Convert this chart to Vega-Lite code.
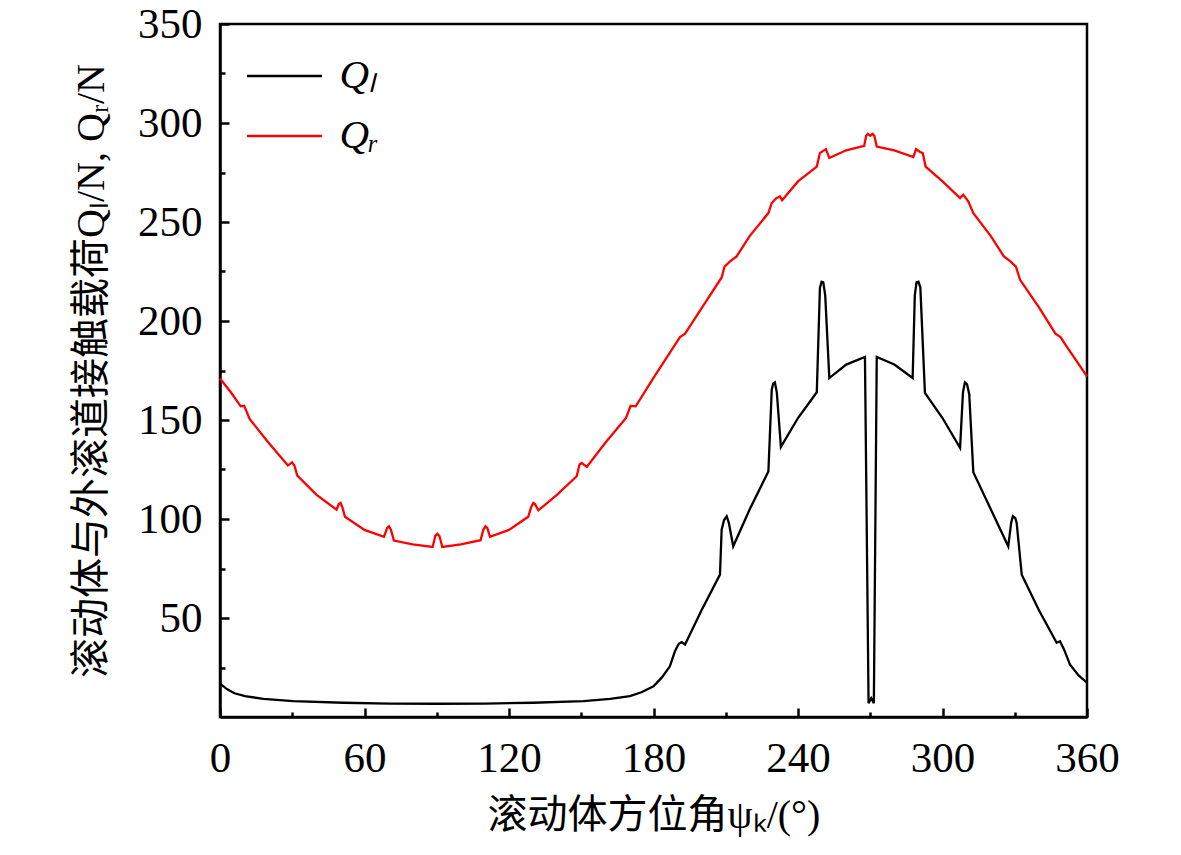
{
"$schema": "https://vega.github.io/schema/vega-lite/v6.json",
"width": 867, "height": 693,
"autosize": {"type": "none"},
"padding": {"left": 220, "top": 24, "right": 94, "bottom": 138},
"background": "white",
"config": {
  "view": {"stroke": "black", "strokeWidth": 2.5},
  "axis": {"domainColor": "black", "domainWidth": 2.5, "tickColor": "black", "tickWidth": 2.5, "labelColor": "black", "titleColor": "black", "grid": false, "labelFont": "Liberation Serif", "titleFont": "Liberation Serif, Noto Sans CJK SC", "titleFontWeight": "normal", "labelFlush": false, "labelOverlap": false, "labelBound": false}
},
"datasets": {
 "d": [
  {"s":"Qₗ","psi":0,"Q":16.9},{"s":"Qₗ","psi":3,"Q":14},{"s":"Qₗ","psi":6,"Q":12},{"s":"Qₗ","psi":10.4,"Q":10.5},{"s":"Qₗ","psi":18,"Q":9.2},{"s":"Qₗ","psi":30.4,"Q":8},{"s":"Qₗ","psi":51.2,"Q":7.2},{"s":"Qₗ","psi":70.6,"Q":6.8},{"s":"Qₗ","psi":90,"Q":6.7},{"s":"Qₗ","psi":110,"Q":6.8},{"s":"Qₗ","psi":130,"Q":7.2},{"s":"Qₗ","psi":150.9,"Q":8},{"s":"Qₗ","psi":162,"Q":9.2},{"s":"Qₗ","psi":170.2,"Q":10.5},{"s":"Qₗ","psi":175,"Q":12.5},{"s":"Qₗ","psi":180,"Q":15.5},{"s":"Qₗ","psi":183.5,"Q":20},{"s":"Qₗ","psi":186.8,"Q":25.6},{"s":"Qₗ","psi":188.9,"Q":33.2},{"s":"Qₗ","psi":190.5,"Q":37},{"s":"Qₗ","psi":191.7,"Q":37.8},{"s":"Qₗ","psi":193.1,"Q":36.6},{"s":"Qₗ","psi":200,"Q":54},{"s":"Qₗ","psi":207.6,"Q":71.9},{"s":"Qₗ","psi":208.3,"Q":94.6},{"s":"Qₗ","psi":209.3,"Q":99.5},{"s":"Qₗ","psi":210.4,"Q":101.4},{"s":"Qₗ","psi":211.3,"Q":98},{"s":"Qₗ","psi":213.1,"Q":86.2},{"s":"Qₗ","psi":220,"Q":105},{"s":"Qₗ","psi":227.7,"Q":124},{"s":"Qₗ","psi":229.1,"Q":165.3},{"s":"Qₗ","psi":229.7,"Q":168.5},{"s":"Qₗ","psi":230.4,"Q":169},{"s":"Qₗ","psi":231.2,"Q":164},{"s":"Qₗ","psi":232.9,"Q":136.4},{"s":"Qₗ","psi":240,"Q":151},{"s":"Qₗ","psi":247.8,"Q":164},{"s":"Qₗ","psi":249.1,"Q":216.7},{"s":"Qₗ","psi":249.8,"Q":219.8},{"s":"Qₗ","psi":250.5,"Q":219.5},{"s":"Qₗ","psi":251.3,"Q":213},{"s":"Qₗ","psi":253,"Q":171.2},{"s":"Qₗ","psi":260,"Q":178},{"s":"Qₗ","psi":267.8,"Q":181.8},{"s":"Qₗ","psi":269.3,"Q":7},{"s":"Qₗ","psi":270.4,"Q":9.5},{"s":"Qₗ","psi":271.5,"Q":7},{"s":"Qₗ","psi":272.7,"Q":181.8},{"s":"Qₗ","psi":280,"Q":178},{"s":"Qₗ","psi":287.6,"Q":171.2},{"s":"Qₗ","psi":288.5,"Q":213},{"s":"Qₗ","psi":289.2,"Q":219.5},{"s":"Qₗ","psi":290,"Q":219.8},{"s":"Qₗ","psi":290.8,"Q":217},{"s":"Qₗ","psi":292.7,"Q":163.7},{"s":"Qₗ","psi":300,"Q":151},{"s":"Qₗ","psi":307.3,"Q":135.9},{"s":"Qₗ","psi":308.5,"Q":164},{"s":"Qₗ","psi":309.3,"Q":169},{"s":"Qₗ","psi":310.2,"Q":168},{"s":"Qₗ","psi":311.1,"Q":163},{"s":"Qₗ","psi":312.8,"Q":123.6},{"s":"Qₗ","psi":320,"Q":105},{"s":"Qₗ","psi":327.3,"Q":86.2},{"s":"Qₗ","psi":328.5,"Q":98},{"s":"Qₗ","psi":329.2,"Q":101.4},{"s":"Qₗ","psi":330.2,"Q":100.5},{"s":"Qₗ","psi":330.8,"Q":98},{"s":"Qₗ","psi":332.9,"Q":71.9},{"s":"Qₗ","psi":340,"Q":54},{"s":"Qₗ","psi":347.4,"Q":37.5},{"s":"Qₗ","psi":348.8,"Q":38.3},{"s":"Qₗ","psi":350.5,"Q":34},{"s":"Qₗ","psi":352.9,"Q":26.5},{"s":"Qₗ","psi":356.5,"Q":21},{"s":"Qₗ","psi":360,"Q":17.3},
  {"s":"Qᵣ","psi":0,"Q":171},{"s":"Qᵣ","psi":4.5,"Q":164},{"s":"Qᵣ","psi":8.6,"Q":156.9},{"s":"Qᵣ","psi":10,"Q":157.2},{"s":"Qᵣ","psi":10.8,"Q":155},{"s":"Qᵣ","psi":12.3,"Q":150.5},{"s":"Qᵣ","psi":20,"Q":138.8},{"s":"Qᵣ","psi":28.2,"Q":127},{"s":"Qᵣ","psi":29.9,"Q":128.6},{"s":"Qᵣ","psi":30.9,"Q":127},{"s":"Qᵣ","psi":32.1,"Q":121.9},{"s":"Qᵣ","psi":40,"Q":112.3},{"s":"Qᵣ","psi":48.4,"Q":104.7},{"s":"Qᵣ","psi":49.3,"Q":107.5},{"s":"Qᵣ","psi":50.1,"Q":108.1},{"s":"Qᵣ","psi":50.8,"Q":106},{"s":"Qᵣ","psi":51.9,"Q":101.1},{"s":"Qᵣ","psi":60,"Q":94.5},{"s":"Qᵣ","psi":68.1,"Q":91},{"s":"Qᵣ","psi":69.4,"Q":95.5},{"s":"Qᵣ","psi":70.2,"Q":96.3},{"s":"Qᵣ","psi":71,"Q":94.5},{"s":"Qᵣ","psi":72.2,"Q":89.1},{"s":"Qᵣ","psi":80,"Q":87.2},{"s":"Qᵣ","psi":88.3,"Q":85.9},{"s":"Qᵣ","psi":89.4,"Q":91.5},{"s":"Qᵣ","psi":90.2,"Q":92.5},{"s":"Qᵣ","psi":91.1,"Q":91.5},{"s":"Qᵣ","psi":92.3,"Q":85.9},{"s":"Qᵣ","psi":100,"Q":87.2},{"s":"Qᵣ","psi":108.2,"Q":89.3},{"s":"Qᵣ","psi":109.3,"Q":94.5},{"s":"Qᵣ","psi":110.2,"Q":96.3},{"s":"Qᵣ","psi":111,"Q":95.5},{"s":"Qᵣ","psi":112.1,"Q":91},{"s":"Qᵣ","psi":120,"Q":94.5},{"s":"Qᵣ","psi":128,"Q":101.1},{"s":"Qᵣ","psi":129.2,"Q":106},{"s":"Qᵣ","psi":130.1,"Q":108.1},{"s":"Qᵣ","psi":130.8,"Q":107.5},{"s":"Qᵣ","psi":132.2,"Q":104.4},{"s":"Qᵣ","psi":140,"Q":112.3},{"s":"Qᵣ","psi":148.1,"Q":121.6},{"s":"Qᵣ","psi":149.3,"Q":127.5},{"s":"Qᵣ","psi":150.2,"Q":128.3},{"s":"Qᵣ","psi":152.3,"Q":126.3},{"s":"Qᵣ","psi":160,"Q":138.5},{"s":"Qᵣ","psi":168.6,"Q":151},{"s":"Qᵣ","psi":170.5,"Q":157.2},{"s":"Qᵣ","psi":172.6,"Q":156.9},{"s":"Qᵣ","psi":180,"Q":171.3},{"s":"Qᵣ","psi":188.9,"Q":188},{"s":"Qᵣ","psi":191,"Q":191.9},{"s":"Qᵣ","psi":193.1,"Q":193.6},{"s":"Qᵣ","psi":200,"Q":206.5},{"s":"Qᵣ","psi":208.3,"Q":222},{"s":"Qᵣ","psi":209.5,"Q":227.5},{"s":"Qᵣ","psi":211.8,"Q":230.1},{"s":"Qᵣ","psi":214.5,"Q":232.6},{"s":"Qᵣ","psi":220,"Q":243},{"s":"Qᵣ","psi":227.7,"Q":254.5},{"s":"Qᵣ","psi":229.1,"Q":259.6},{"s":"Qᵣ","psi":231,"Q":262},{"s":"Qᵣ","psi":232.5,"Q":262.9},{"s":"Qᵣ","psi":233.4,"Q":261},{"s":"Qᵣ","psi":240,"Q":270.5},{"s":"Qᵣ","psi":247.8,"Q":278},{"s":"Qᵣ","psi":249.1,"Q":284.8},{"s":"Qᵣ","psi":250.3,"Q":285.8},{"s":"Qᵣ","psi":251.6,"Q":286.8},{"s":"Qᵣ","psi":253,"Q":282.3},{"s":"Qᵣ","psi":260,"Q":286.2},{"s":"Qᵣ","psi":267.5,"Q":288.5},{"s":"Qᵣ","psi":268.3,"Q":293.5},{"s":"Qᵣ","psi":269,"Q":294.5},{"s":"Qᵣ","psi":270,"Q":293.5},{"s":"Qᵣ","psi":271,"Q":294.5},{"s":"Qᵣ","psi":271.7,"Q":293.5},{"s":"Qᵣ","psi":272.7,"Q":288.1},{"s":"Qᵣ","psi":280,"Q":286.2},{"s":"Qᵣ","psi":287.9,"Q":282.8},{"s":"Qᵣ","psi":289,"Q":286.8},{"s":"Qᵣ","psi":290.5,"Q":285.5},{"s":"Qᵣ","psi":291.8,"Q":284.8},{"s":"Qᵣ","psi":293,"Q":278},{"s":"Qᵣ","psi":300,"Q":270.5},{"s":"Qᵣ","psi":307.3,"Q":262.1},{"s":"Qᵣ","psi":308.6,"Q":263.8},{"s":"Qᵣ","psi":310.7,"Q":260.4},{"s":"Qᵣ","psi":312.8,"Q":254.5},{"s":"Qᵣ","psi":320,"Q":243},{"s":"Qᵣ","psi":325.5,"Q":232.6},{"s":"Qᵣ","psi":328.2,"Q":230.1},{"s":"Qᵣ","psi":330.5,"Q":227.5},{"s":"Qᵣ","psi":332.2,"Q":220.8},{"s":"Qᵣ","psi":340,"Q":207},{"s":"Qᵣ","psi":346.9,"Q":193.6},{"s":"Qᵣ","psi":349,"Q":191.9},{"s":"Qᵣ","psi":351.1,"Q":188},{"s":"Qᵣ","psi":360,"Q":172}
 ]
},
"data": {"name": "d"},
"layer": [
 {
  "mark": {"type": "line", "strokeWidth": 2.3},
  "encoding": {
   "x": {"field": "psi", "type": "quantitative", "scale": {"domain": [0, 360], "nice": false},
         "axis": {"orient": "bottom", "values": [0, 60, 120, 180, 240, 300, 360], "tickSize": -9, "labelFontSize": 43, "labelPadding": 29, "title": "滚动体方位角ψₖ/(°)", "titleFontSize": 40, "titlePadding": 15}},
   "y": {"field": "Q", "type": "quantitative", "scale": {"domain": [0, 350], "nice": false},
         "axis": {"orient": "left", "values": [50, 100, 150, 200, 250, 300, 350], "tickSize": -9, "labelFontSize": 43, "labelPadding": 27, "title": "滚动体与外滚道接触载荷Qₗ/N, Qᵣ/N", "titleFontSize": 40, "titlePadding": 26}},
   "color": {"field": "s", "type": "nominal", "scale": {"domain": ["Qₗ", "Qᵣ"], "range": ["#000000", "#ff0000"]},
             "legend": {"orient": "none", "legendX": 25.5, "legendY": 32, "title": null, "symbolType": "stroke", "symbolSize": 5625, "symbolStrokeWidth": 2.3, "clipHeight": 40, "rowPadding": 19, "labelOffset": 16, "labelFont": "Liberation Serif", "labelFontSize": 41, "labelFontStyle": "italic", "labelColor": "black", "padding": 0}}
  }
 },
 {
  "mark": {"type": "line", "opacity": 0},
  "encoding": {
   "x": {"field": "psi", "type": "quantitative", "scale": {"domain": [0, 360], "nice": false},
         "axis": {"orient": "bottom", "values": [30, 90, 150, 210, 270, 330], "tickSize": -5, "labels": false, "domain": false, "title": null}},
   "y": {"field": "Q", "type": "quantitative", "scale": {"domain": [0, 350], "nice": false},
         "axis": {"orient": "left", "values": [25, 75, 125, 175, 225, 275, 325], "tickSize": -5, "labels": false, "domain": false, "title": null}},
   "detail": {"field": "s"}
  }
 }
],
"resolve": {"axis": {"x": "independent", "y": "independent"}}
}
